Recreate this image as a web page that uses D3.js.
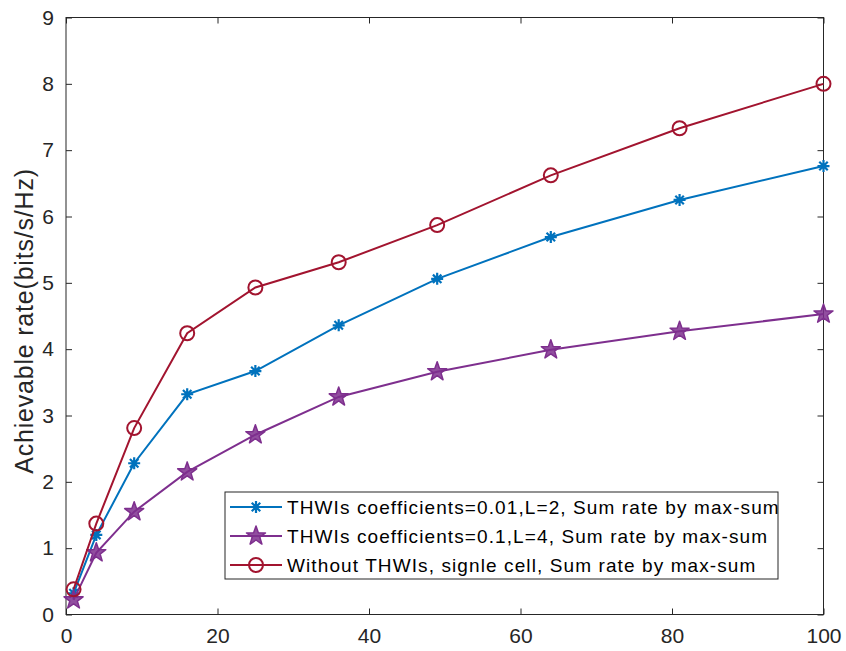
<!DOCTYPE html>
<html>
<head>
<meta charset="utf-8">
<script src="https://cdn.jsdelivr.net/npm/d3@7"></script>
<style>
  body { margin: 0; background: #fff; }
  svg { display: block; font-family: "Liberation Sans", Arial, sans-serif; }
</style>
</head>
<body>
<div id="chart"></div>
<script>
// x values (squares) and the three series
const xVals = [1, 4, 9, 16, 25, 36, 49, 64, 81, 100];
const rateThwi001 = [0.32, 1.20, 2.28, 3.32, 3.67, 4.36, 5.06, 5.69, 6.25, 6.76];
const rateThwi01 = [0.22, 0.93, 1.55, 2.15, 2.71, 3.28, 3.66, 3.99, 4.27, 4.53];
const rateSingle = [0.38, 1.37, 2.81, 4.24, 4.93, 5.31, 5.87, 6.62, 7.33, 8.00];
const xTicks = [0, 20, 40, 60, 80, 100];
const yTicks = [0, 1, 2, 3, 4, 5, 6, 7, 8, 9];
const seriesNames = [
  "THWIs coefficients=0.01,L=2, Sum rate by max-sum",
  "THWIs coefficients=0.1,L=4, Sum rate by max-sum",
  "Without THWIs, signle cell, Sum rate by max-sum"
];

const width = 846, height = 651,
    margin = {left: 66, top: 17.5, right: 22.5, bottom: 36.5};
const axisColor = "#262626";

const series = [
  {name: seriesNames[0], vals: rateThwi001, color: "#0072BD", marker: "asterisk"},
  {name: seriesNames[1], vals: rateThwi01, color: "#7E2F8E", marker: "star"},
  {name: seriesNames[2], vals: rateSingle, color: "#A2142F", marker: "circle"}
];

const svg = d3.select("#chart").append("svg")
    .attr("width", width)
    .attr("height", height);

const x = d3.scaleLinear().domain([0, 100]).range([margin.left, width - margin.right]);
const y = d3.scaleLinear().domain([0, 9]).range([height - margin.bottom, margin.top]);

// box
svg.append("rect")
    .attr("x", x(0)).attr("y", y(9))
    .attr("width", x(100) - x(0)).attr("height", y(0) - y(9))
    .attr("fill", "none").attr("stroke", axisColor).attr("stroke-width", 1);

// axes, ticks inward
const tickLen = 6;
const xAxis = svg.append("g").attr("transform", `translate(0,${y(0)})`)
    .call(d3.axisBottom(x).tickValues(xTicks).tickSizeInner(-tickLen).tickSizeOuter(0).tickPadding(14));
const yAxis = svg.append("g").attr("transform", `translate(${x(0)},0)`)
    .call(d3.axisLeft(y).tickValues(yTicks).tickSizeInner(-tickLen).tickSizeOuter(0).tickPadding(12));
const xTop = svg.append("g").attr("transform", `translate(0,${y(9)})`)
    .call(d3.axisTop(x).tickValues(xTicks).tickSizeInner(-tickLen).tickSizeOuter(0).tickFormat(""));
const yRight = svg.append("g").attr("transform", `translate(${x(100)},0)`)
    .call(d3.axisRight(y).tickValues(yTicks).tickSizeInner(-tickLen).tickSizeOuter(0).tickFormat(""));

[xAxis, yAxis, xTop, yRight].forEach(g => {
  g.select(".domain").remove();
  g.selectAll(".tick line").attr("stroke", axisColor);
  g.selectAll(".tick text")
      .attr("fill", axisColor)
      .style("font-size", "21px")
      .style("font-family", "'Liberation Sans', Arial, sans-serif");
});
xAxis.selectAll(".tick text").attr("dy", "0.71em");

// y label
svg.append("text")
    .attr("transform", `translate(33,321) rotate(-90)`)
    .attr("text-anchor", "middle")
    .attr("fill", axisColor)
    .style("font-size", "25px")
    .style("letter-spacing", "0.8px")
    .text("Achievable rate(bits/s/Hz)");

// marker shapes
function starPath(r) {
  const pts = [];
  for (let i = 0; i < 10; i++) {
    const a = -Math.PI / 2 + i * Math.PI / 5;
    const rr = i % 2 === 0 ? r : r * 0.4;
    pts.push([rr * Math.cos(a), rr * Math.sin(a)]);
  }
  return "M" + pts.map(p => p.join(",")).join("L") + "Z";
}
function asteriskPath(r) {
  let p = "";
  for (let i = 0; i < 4; i++) {
    const a = i * Math.PI / 4;
    p += `M${-r * Math.cos(a)},${-r * Math.sin(a)}L${r * Math.cos(a)},${r * Math.sin(a)}`;
  }
  return p;
}
function drawMarker(g, type, color) {
  if (type === "circle") {
    g.append("circle").attr("r", 7).attr("fill", "none")
        .attr("stroke", color).attr("stroke-width", 2);
  } else if (type === "star") {
    g.append("path").attr("d", starPath(10)).attr("fill", color)
        .attr("fill-opacity", 0.85).attr("stroke", color).attr("stroke-width", 1.5)
        .attr("stroke-linejoin", "round");
  } else {
    g.append("path").attr("d", asteriskPath(6)).attr("fill", "none")
        .attr("stroke", color).attr("stroke-width", 2.2);
  }
}

const line = d3.line().x(d => x(d[0])).y(d => y(d[1]));

series.forEach(s => {
  const pts = xVals.map((v, i) => [v, s.vals[i]]);
  svg.append("path")
      .datum(pts)
      .attr("d", line)
      .attr("fill", "none")
      .attr("stroke", s.color)
      .attr("stroke-width", 2);
  svg.append("g").selectAll("g").data(pts).enter()
      .append("g")
      .attr("transform", d => `translate(${x(d[0])},${y(d[1])})`)
      .each(function() { drawMarker(d3.select(this), s.marker, s.color); });
});

// legend
const legX = 225, legY = 492, legW = 553, legH = 87, rowH = 29;
const legend = svg.append("g");
legend.append("rect")
    .attr("x", legX).attr("y", legY)
    .attr("width", legW).attr("height", legH)
    .attr("fill", "#fff").attr("stroke", axisColor).attr("stroke-width", 1);
series.forEach((s, i) => {
  const cy = legY + 15 + i * rowH;
  legend.append("line")
      .attr("x1", legX + 5).attr("x2", legX + 57)
      .attr("y1", cy).attr("y2", cy)
      .attr("stroke", s.color).attr("stroke-width", 2);
  const m = legend.append("g").attr("transform", `translate(${legX + 31},${cy})`);
  drawMarker(m, s.marker, s.color);
  legend.append("text")
      .attr("x", legX + 62).attr("y", cy)
      .attr("dy", "0.35em")
      .attr("fill", "#000")
      .style("font-size", "19px")
      .style("letter-spacing", "1.1px")
      .text(s.name);
});
</script>
</body>
</html>
